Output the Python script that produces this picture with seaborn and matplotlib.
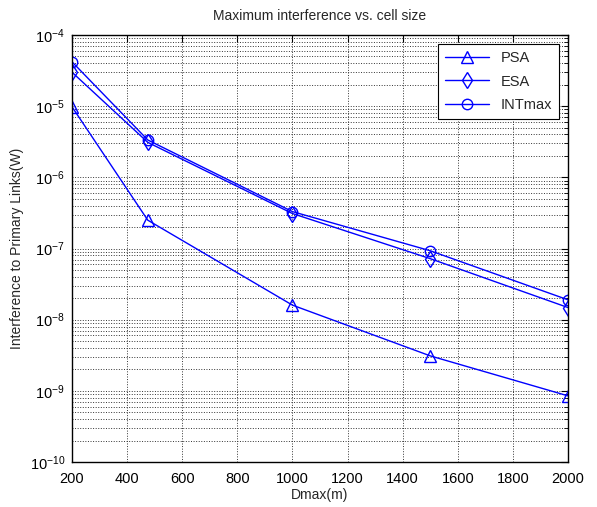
import numpy as np
import pandas as pd
import seaborn as sns
import matplotlib.pyplot as plt
from matplotlib.ticker import LogLocator, MultipleLocator, NullFormatter

# values
dmax = [200, 475, 1000, 1500, 2000]
psa = [9.8e-6, 2.5e-7, 1.6e-8, 3.1e-9, 8.5e-10]
esa = [3.0e-5, 3.1e-6, 3.1e-7, 7.2e-8, 1.48e-8]
intmax = [4.2e-5, 3.35e-6, 3.3e-7, 9.3e-8, 1.9e-8]

series_names = ["PSA", "ESA", "INTmax"]
series_values = [psa, esa, intmax]
markers = ["^", "d", "o"]

sns.set_style("white")
plt.rcParams["font.family"] = ["Liberation Sans", "DejaVu Sans"]
plt.rcParams["mathtext.fontset"] = "custom"
plt.rcParams["mathtext.rm"] = "Liberation Sans"

fig = plt.figure(figsize=(5.97, 5.07), dpi=100)
ax = fig.add_axes([72 / 597, 45 / 507, 496 / 597, 427 / 507])

for name, vals, mk in zip(series_names, series_values, markers):
    df = pd.DataFrame({"Dmax": dmax, "val": vals})
    sns.lineplot(data=df, x="Dmax", y="val", ax=ax, color="#0000FF",
                 linewidth=1.0, marker=mk, markersize=8 if mk != "o" else 7.5,
                 markerfacecolor="none", markeredgecolor="#0000FF",
                 markeredgewidth=1.0, label=name)

ax.set_yscale("log")
ax.set_xlim(200, 2000)
ax.set_ylim(1e-10, 1e-4)
ax.xaxis.set_major_locator(MultipleLocator(200))
ax.yaxis.set_major_locator(LogLocator(base=10, numticks=10))
ax.yaxis.set_minor_locator(LogLocator(base=10, subs=np.arange(2, 10), numticks=20))
ax.yaxis.set_minor_formatter(NullFormatter())

ax.grid(True, which="major", color="0.2", linestyle=":", linewidth=0.7)
ax.grid(True, which="minor", axis="y", color="0.2", linestyle=":", linewidth=0.7)

ax.tick_params(which="both", direction="in", top=True, right=True,
               labelsize=10.5, colors="black")
ax.tick_params(which="major", length=5)
ax.tick_params(which="minor", length=3)
ax.tick_params(axis="x", pad=7)
ax.tick_params(axis="y", pad=5)
for s in ax.spines.values():
    s.set_color("black")
    s.set_linewidth(1.0)

ax.set_title("Maximum interference vs. cell size", fontsize=10, pad=11)
ax.set_xlabel("Dmax(m)", fontsize=10, labelpad=2)
ax.set_ylabel("Interference to Primary Links(W)", fontsize=10)

leg = ax.legend(loc="upper right", fancybox=False, edgecolor="black",
                framealpha=1, fontsize=10.5, handlelength=3.0,
                labelspacing=0.65, borderaxespad=0.6, borderpad=0.5)
leg.get_frame().set_linewidth(0.8)

fig.savefig("out.png", dpi=100)
